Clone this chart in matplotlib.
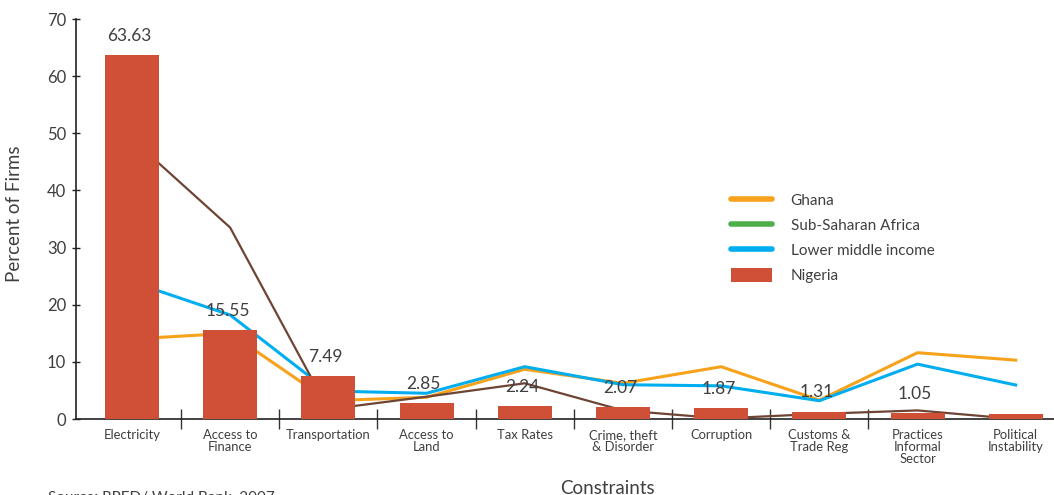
import matplotlib
matplotlib.use("Agg")
import matplotlib.pyplot as plt
from matplotlib.lines import Line2D
from matplotlib.patches import Patch
import numpy as np

categories = ["Electricity", "Access to\nFinance", "Transportation", "Access to\nLand",
              "Tax Rates", "Crime, theft\n& Disorder", "Corruption", "Customs &\nTrade Reg",
              "Practices\nInformal\nSector", "Political\nInstability"]
nigeria = [63.63, 15.55, 7.49, 2.85, 2.24, 2.07, 1.87, 1.31, 1.05, 0.9]
nigeria_labels = ["63.63", "15.55", "7.49", "2.85", "2.24", "2.07", "1.87", "1.31", "1.05", ""]
ghana = [14.0, 15.0, 3.2, 3.8, 8.7, 6.25, 9.15, 3.3, 11.6, 10.3]
sub_saharan = [49.0, 33.5, 1.7, 3.9, 6.25, 1.5, 0.1, 0.9, 1.5, 0.0]
lower_middle = [24.0, 18.2, 4.9, 4.5, 9.15, 6.0, 5.8, 3.2, 9.6, 5.95]
y_ticks = [0, 10, 20, 30, 40, 50, 60, 70]

C_BAR = "#D04F37"
C_GHANA = "#F7A21B"
C_SSA_LINE = "#6E4434"
C_SSA_LEG = "#4DAF4A"
C_LMI = "#00AEEF"
C_TXT = "#3F3F3F"

plt.rcParams['font.family'] = ['Lato', 'DejaVu Sans']

fig = plt.figure(figsize=(10.54, 4.95), dpi=100)
ax = fig.add_axes([76/1054, 1-419/495, 1-76/1054, (419-19)/495])

x = np.arange(len(categories))
ax.plot(x, ghana, color=C_GHANA, lw=2.2, zorder=2)
ax.plot(x, lower_middle, color=C_LMI, lw=2.2, zorder=2)
ax.plot(x, sub_saharan, color=C_SSA_LINE, lw=1.6, zorder=2)
bars = ax.bar(x, nigeria, width=0.55, color=C_BAR, zorder=3)

for xi, v, lab in zip(x, nigeria, nigeria_labels):
    if lab:
        ax.annotate(lab, (xi, v), xytext=(-2, 8), textcoords="offset points",
                    ha="center", va="bottom", fontsize=12.5, color=C_TXT, zorder=5)

ax.set_xlim(-0.57, 9.39)
ax.set_ylim(0, 70)
ax.set_yticks(y_ticks)
ax.tick_params(axis='y', direction='inout', length=6, width=1, labelsize=12,
               labelcolor=C_TXT, color="#222222", pad=4)
ax.set_xticks(np.arange(0.5, 8.0, 1.0))
ax.set_xticklabels([])
ax.set_xticks(x, minor=True)
ax.set_xticklabels(categories, minor=True, fontsize=9.4, color=C_TXT, linespacing=1.0)
ax.tick_params(axis='x', which='major', direction='inout', length=15, width=1, color="#333333")
ax.tick_params(axis='x', which='minor', length=0, pad=7)
for s in ['top', 'right']:
    ax.spines[s].set_visible(False)
ax.spines['left'].set_color("#222222")
ax.spines['bottom'].set_color("#222222")
ax.spines['left'].set_linewidth(1.2)
ax.spines['bottom'].set_linewidth(1.2)

fig.text(15/1054, 1-214/495, "Percent of Firms", rotation=90, ha="center", va="center",
         fontsize=13.5, color=C_TXT)
fig.text(607/1054, 1-488/495, "Constraints", ha="center", va="center", fontsize=13.5, color=C_TXT)
fig.text(48/1054, 1-491/495, "Source: RPED/ World Bank, 2007", ha="left", va="top",
         fontsize=11, color=C_TXT)

handles = [Line2D([0], [0], color=C_GHANA, lw=4, solid_capstyle='round'),
           Line2D([0], [0], color=C_SSA_LEG, lw=4, solid_capstyle='round'),
           Line2D([0], [0], color=C_LMI, lw=4, solid_capstyle='round'),
           Patch(facecolor=C_BAR, edgecolor='none')]
labels = ["Ghana", "Sub-Saharan Africa", "Lower middle income", "Nigeria"]
fig.legend(handles, labels, loc="center left", bbox_to_anchor=(731/1054, 1-238/495),
           frameon=False, fontsize=11, handlelength=2.7, handleheight=1.1,
           handletextpad=1.2, labelspacing=0.62, borderpad=0, borderaxespad=0,
           labelcolor=C_TXT)

fig.savefig("out.png", dpi=100)
